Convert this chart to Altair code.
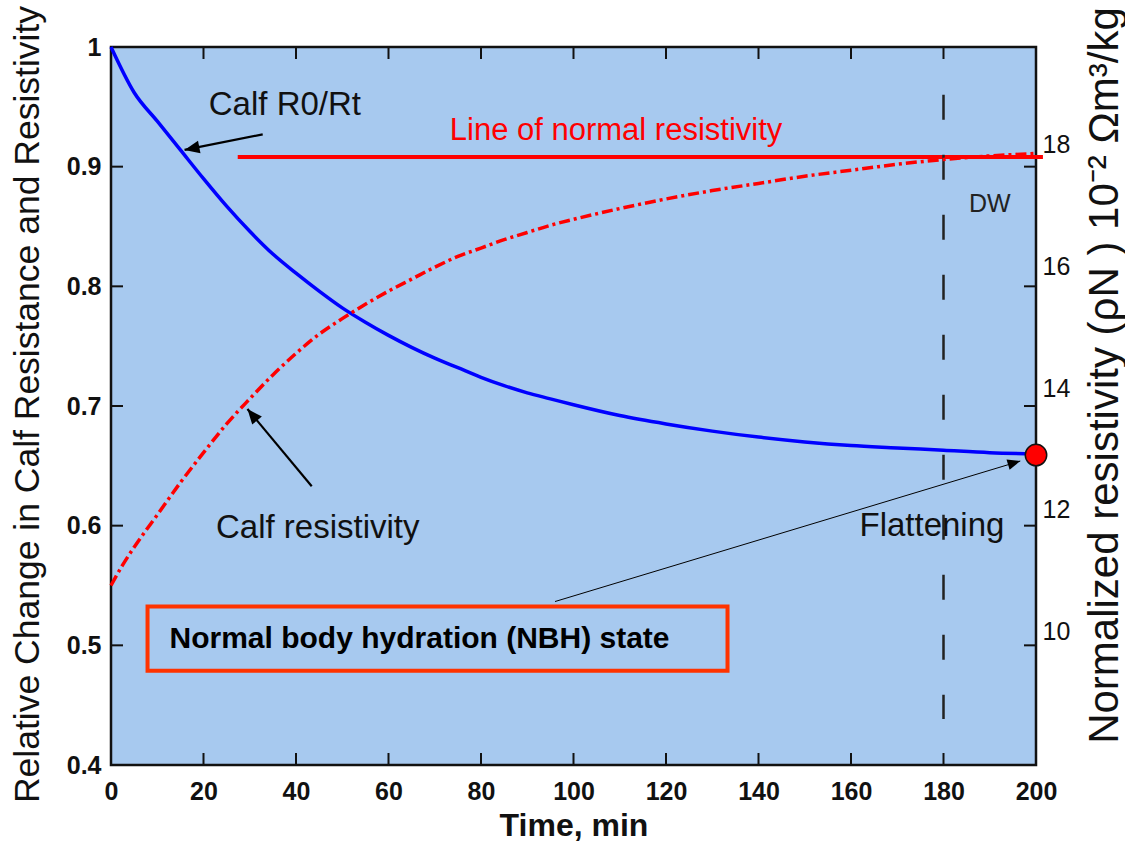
import math
import altair as alt
import pandas as pd

FONT = "Liberation Sans"
BG = "#A7C9EF"

# ---------------- data ----------------
blue_t = [0, 5, 10, 15, 20, 25, 30, 35, 40, 45, 50, 55, 60, 65, 70, 75, 80, 85, 90, 95,
          100, 110, 120, 130, 140, 150, 160, 170, 180, 190, 200]
blue_v = [1.000, 0.962, 0.938, 0.914, 0.890, 0.867, 0.846, 0.827, 0.811, 0.796, 0.782,
          0.770, 0.759, 0.749, 0.740, 0.732, 0.724, 0.717, 0.711, 0.706, 0.701, 0.692,
          0.685, 0.679, 0.674, 0.670, 0.667, 0.665, 0.663, 0.661, 0.660]

red_t = [0, 2.5, 5, 10, 15, 20, 25, 30, 35, 40, 45, 50, 55, 60, 65, 70, 75, 80, 85, 90, 95,
         100, 110, 120, 130, 140, 150, 160, 170, 180, 190, 200]
red_v = [0.550, 0.567, 0.582, 0.609, 0.636, 0.661, 0.685, 0.706, 0.726, 0.744, 0.760,
         0.773, 0.785, 0.796, 0.806, 0.816, 0.825, 0.832, 0.839, 0.845, 0.851, 0.856,
         0.865, 0.873, 0.880, 0.886, 0.892, 0.897, 0.902, 0.906, 0.909, 0.911]

x_ticks = [0, 20, 40, 60, 80, 100, 120, 140, 160, 180, 200]
y_ticks = [0.4, 0.5, 0.6, 0.7, 0.8, 0.9, 1.0]
right_ticks = [10, 12, 14, 16, 18]

normal_line_x = [27.4, 201.5]
normal_line_y = 0.908
dw_x = 180
dw_y = [0.960, 0.4385]
nbh_point = (200, 0.659)

box_x = [7.9, 133.3]
box_y = [0.4788, 0.5324]

# arrows: (x_start, y_start, x_tip, y_tip, width, head size)
arrows = [
    (32.8, 0.927, 15.9, 0.914, 2.2, 900),
    (43.4, 0.633, 29.5, 0.6975, 2.2, 900),
    (96.0, 0.5366, 196.6, 0.654, 1.0, 650),
]

labels = [
    ("Calf R0/Rt", 37.6, 0.9514, 33, "normal", "#111111", "center"),
    ("Line of normal resistivity", 109.2, 0.9296, 31, "normal", "#FF0000", "center"),
    ("DW", 190.0, 0.869, 25, "normal", "#222222", "center"),
    ("Calf resistivity", 44.7, 0.5978, 33, "normal", "#111111", "center"),
    ("Flattening", 177.5, 0.5994, 33, "normal", "#111111", "center"),
    ("Normal body hydration (NBH) state", 12.65, 0.5056, 30, "bold", "#000000", "left"),
]

# ---------------- geometry ----------------
W, H = 925, 718
PAD = {"left": 111, "top": 47, "right": 1125 - 111 - W, "bottom": 844 - 47 - H}
X_DOM = [0, 200]
Y_DOM = [0.4, 1.0]

xs = alt.Scale(domain=X_DOM, nice=False, zero=False)
ys = alt.Scale(domain=Y_DOM, nice=False, zero=False)

blue_df = pd.DataFrame({"t": blue_t, "v": blue_v})
red_df = pd.DataFrame({"t": red_t, "v": red_v})

base_x_axis = alt.Axis(values=x_ticks, labelFont=FONT, labelFontSize=25, labelFontWeight="bold",
                       labelColor="#111111", labelPadding=14, tickSize=0, domain=False,
                       grid=False, title="Time, min", titleFont=FONT, titleFontSize=32,
                       titleFontWeight="bold", titleColor="#111111", titlePadding=6,
                       labelFlush=False)
left_axis = alt.Axis(values=y_ticks, labelFont=FONT, labelFontSize=25, labelFontWeight="bold",
                     labelColor="#111111", labelPadding=10, tickSize=0, domain=False, grid=False,
                     labelExpr="datum.value == 1 ? '1' : format(datum.value, '.1f')",
                     title="Relative Change in Calf Resistance and Resistivity",
                     titleFont=FONT, titleFontSize=35.5, titleFontWeight="normal",
                     titleColor="#111111", titleAngle=270, titleAlign="center",
                     titleBaseline="middle", titleX=-84, titleY=H / 2 - 2, labelFlush=False)

X = lambda f: alt.X(f, scale=xs)
Y = lambda f: alt.Y(f, scale=ys)

blue_line = alt.Chart(blue_df).mark_line(color="#0000FF", strokeWidth=3.5,
                                         interpolate="monotone").encode(
    x=alt.X("t:Q", scale=xs, axis=base_x_axis),
    y=alt.Y("v:Q", scale=ys, axis=left_axis),
)

red_line = alt.Chart(red_df).mark_line(color="#FF0000", strokeWidth=3.5, interpolate="monotone",
                                       strokeDash=[11, 4, 3, 4]).encode(
    x=X("t:Q"), y=Y("v:Q"),
)

normal_df = pd.DataFrame({"x": [normal_line_x[0]], "x2": [normal_line_x[1]], "y": [normal_line_y]})
normal_rule = alt.Chart(normal_df).mark_rule(color="#FF0000", strokeWidth=4).encode(
    x=X("x:Q"), x2="x2:Q", y=Y("y:Q"),
)

dw_df = pd.DataFrame({"x": [dw_x], "y": [dw_y[0]], "y2": [dw_y[1]]})
dw_rule = alt.Chart(dw_df).mark_rule(color="#222222", strokeWidth=2.5,
                                     strokeDash=[25, 35]).encode(
    x=X("x:Q"), y=Y("y:Q"), y2="y2:Q",
)

box_df = pd.DataFrame({"x": [box_x[0]], "x2": [box_x[1]], "y": [box_y[0]], "y2": [box_y[1]]})
box = alt.Chart(box_df).mark_rect(fill=BG, stroke="#FF3300", strokeWidth=4).encode(
    x=X("x:Q"), x2="x2:Q", y=Y("y:Q"), y2="y2:Q",
)

# inner ticks
xt_df = pd.DataFrame({"x": x_ticks[1:-1]})
yt_df = pd.DataFrame({"y": y_ticks[1:-1]})
tick_style = dict(color="#111111", strokeWidth=2)
bottom_ticks = alt.Chart(xt_df).mark_rule(**tick_style).encode(
    x=X("x:Q"), y=alt.value(H), y2=alt.value(H - 12))
top_ticks = alt.Chart(xt_df).mark_rule(**tick_style).encode(
    x=X("x:Q"), y=alt.value(0), y2=alt.value(12))
left_ticks = alt.Chart(yt_df).mark_rule(**tick_style).encode(
    y=Y("y:Q"), x=alt.value(0), x2=alt.value(12))
right_ticks_m = alt.Chart(yt_df).mark_rule(**tick_style).encode(
    y=Y("y:Q"), x=alt.value(W), x2=alt.value(W - 12))

# arrows
px_per_x = W / (X_DOM[1] - X_DOM[0])
px_per_y = H / (Y_DOM[1] - Y_DOM[0])
arrow_layers = []
for (x0, y0, x1, y1, sw, hs) in arrows:
    seg = pd.DataFrame({"x": [x0], "y": [y0], "x2": [x1], "y2": [y1]})
    arrow_layers.append(alt.Chart(seg).mark_rule(color="#000000", strokeWidth=sw).encode(
        x=X("x:Q"), x2="x2:Q", y=Y("y:Q"), y2="y2:Q"))
    dx = (x1 - x0) * px_per_x
    dy = -(y1 - y0) * px_per_y
    ang = math.degrees(math.atan2(dx, -dy)) % 360
    head = pd.DataFrame({"x": [x1], "y": [y1]})
    arrow_layers.append(alt.Chart(head).mark_point(
        shape="M0,0L-0.42,1L0.42,1Z", filled=True, fill="#000000",
        opacity=1, size=hs, angle=ang).encode(x=X("x:Q"), y=Y("y:Q")))

dot_df = pd.DataFrame({"x": [nbh_point[0]], "y": [nbh_point[1]]})
dot = alt.Chart(dot_df).mark_point(shape="circle", filled=True, fill="#FF0000", stroke="#111111",
                                   strokeWidth=1.5, opacity=1, size=460).encode(
    x=X("x:Q"), y=Y("y:Q"))

text_layers = []
for (txt, tx, ty, fs, fw, col, al) in labels:
    tdf = pd.DataFrame({"x": [tx], "y": [ty], "label": [txt]})
    text_layers.append(alt.Chart(tdf).mark_text(
        font=FONT, fontSize=fs, fontWeight=fw, color=col, align=al, baseline="middle").encode(
        x=X("x:Q"), y=Y("y:Q"), text="label:N"))

left_group = alt.layer(
    blue_line, box, normal_rule, dw_rule, red_line, *arrow_layers, dot,
    bottom_ticks, top_ticks, left_ticks, right_ticks_m, *text_layers,
)

# right axis (resistivity units)
right_df = pd.DataFrame({"r": right_ticks})
right_axis_layer = alt.Chart(right_df).mark_point(opacity=0).encode(
    y=alt.Y("r:Q", scale=alt.Scale(domain=[7.80, 19.61], nice=False, zero=False),
            axis=alt.Axis(orient="right", values=right_ticks, labelFont=FONT, labelFontSize=25,
                          labelColor="#111111", labelPadding=6, tickSize=0, domain=False,
                          grid=False, labelFlush=False,
                          title="Normalized resistivity (ρN ) 10⁻² Ωm³/kg",
                          titleFont=FONT, titleFontSize=42, titleFontWeight="normal",
                          titleColor="#111111", titleAngle=270, titleAlign="center",
                          titleBaseline="middle", titleX=68, titleY=328)),
)

chart = alt.layer(left_group, right_axis_layer).resolve_scale(y="independent").properties(
    width=W, height=H, padding=PAD, autosize=alt.AutoSizeParams(type="none"),
    background="#FFFFFF",
).configure_view(fill=BG, stroke="#111111", strokeWidth=2.5)

chart.save("out.html", embed_options={"renderer": "svg", "actions": False})
